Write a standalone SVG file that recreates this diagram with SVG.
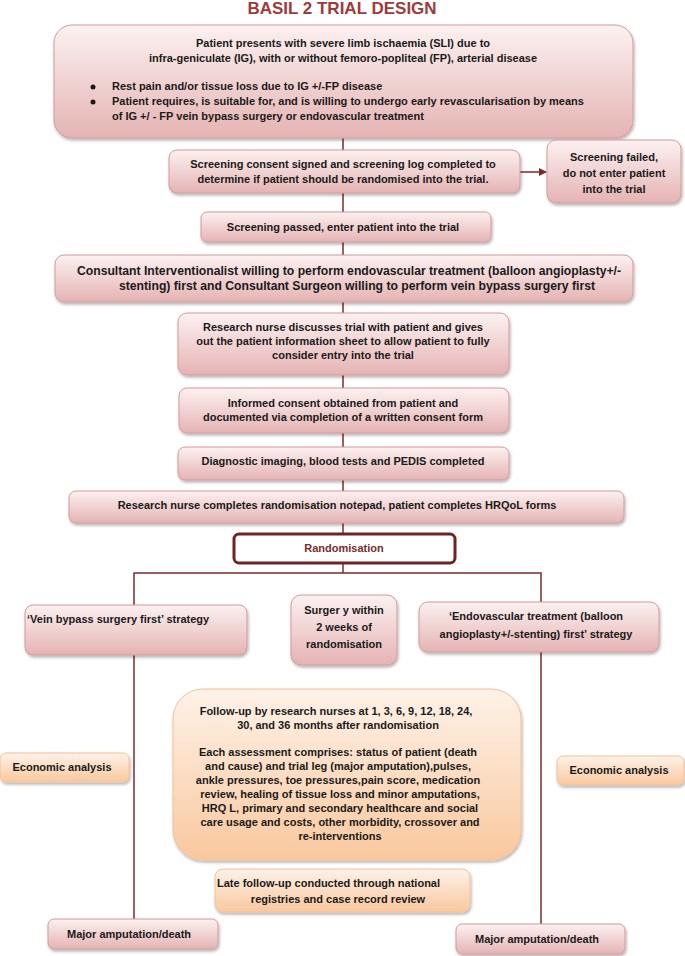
<svg xmlns="http://www.w3.org/2000/svg" width="685" height="956" viewBox="0 0 685 956">
<defs>
<linearGradient id="pink" x1="0" y1="0" x2="0" y2="1">
<stop offset="0" stop-color="#fcf1f1"/>
<stop offset="1" stop-color="#e5b3b3"/>
</linearGradient>
<linearGradient id="orange" x1="0" y1="0" x2="0" y2="1">
<stop offset="0" stop-color="#fef2e8"/>
<stop offset="1" stop-color="#f9c89e"/>
</linearGradient>
<filter id="sh" x="-10%" y="-10%" width="120%" height="130%">
<feDropShadow dx="1" dy="2" stdDeviation="1.5" flood-color="#000" flood-opacity="0.3"/>
</filter>
<marker id="arr" markerWidth="8" markerHeight="8" refX="7" refY="4" orient="auto" markerUnits="userSpaceOnUse">
<path d="M0,0 L8,4 L0,8 z" fill="#7b2b2b"/>
</marker>
</defs>
<style>
.p{fill:url(#pink);stroke:#d39a9a;stroke-width:1;filter:url(#sh)}
.o{fill:url(#orange);stroke:#f5c196;stroke-width:1;filter:url(#sh)}
text{font-family:"Liberation Sans",Arial,sans-serif;font-weight:bold;font-size:11px;fill:#1a1a1a}
.c{text-anchor:middle}
.ln{stroke:#7b2b2b;stroke-width:1.5;fill:none}
</style>
<text x="342" y="14" class="c" style="font-size:17px;fill:#a0393a">BASIL 2 TRIAL DESIGN</text>

<g id="connectors">
<line class="ln" x1="343" y1="138" x2="343" y2="150"/>
<line class="ln" x1="520" y1="172" x2="546" y2="172" marker-end="url(#arr)"/>
<line class="ln" x1="343" y1="193" x2="343" y2="212"/>
<line class="ln" x1="343" y1="242" x2="343" y2="255"/>
<line class="ln" x1="343" y1="302" x2="343" y2="313"/>
<line class="ln" x1="343" y1="375" x2="343" y2="388"/>
<line class="ln" x1="343" y1="433" x2="343" y2="447"/>
<line class="ln" x1="343" y1="480" x2="343" y2="491"/>
<line class="ln" x1="343" y1="523" x2="343" y2="533"/>
<line class="ln" x1="343" y1="563" x2="343" y2="573"/>
<path class="ln" d="M134,605 V573 H541 V602"/>
<line class="ln" x1="134" y1="655" x2="134" y2="919"/>
<line class="ln" x1="541" y1="652" x2="541" y2="924"/>
</g>

<g id="n1">
<rect class="p" x="54" y="25" width="579" height="113" rx="18"/>
<text x="343" y="47" class="c">Patient presents with severe limb ischaemia (SLI) due to</text>
<text x="343" y="62" class="c">infra-geniculate (IG), with or without femoro-popliteal (FP), arterial disease</text>
<circle cx="93" cy="87" r="2.5" fill="#1a1a1a"/>
<circle cx="93" cy="102" r="2.5" fill="#1a1a1a"/>
<text x="112" y="90">Rest pain and/or tissue loss due to IG +/-FP disease</text>
<text x="112" y="105">Patient requires, is suitable for, and is willing to undergo early revascularisation by means</text>
<text x="112" y="120">of IG +/ - FP vein bypass surgery or endovascular treatment</text>
</g>

<g id="n2">
<rect class="p" x="169" y="150" width="351" height="43" rx="8"/>
<text x="343" y="168" class="c">Screening consent signed and screening log completed to</text>
<text x="343" y="183" class="c">determine if patient should be randomised into the trial.</text>
</g>

<g id="n3">
<rect class="p" x="547" y="140" width="134" height="63" rx="9"/>
<text x="614" y="161" class="c">Screening failed,</text>
<text x="614" y="177" class="c">do not enter patient</text>
<text x="614" y="193" class="c">into the trial</text>
</g>

<g id="n4">
<rect class="p" x="201" y="212" width="290" height="30" rx="6"/>
<text x="343" y="231" class="c">Screening passed, enter patient into the trial</text>
</g>

<g id="n5">
<rect class="p" x="55" y="255" width="578" height="47" rx="9"/>
<text x="349" y="275" class="c" style="font-size:12.2px">Consultant Interventionalist willing to perform endovascular treatment (balloon angioplasty+/-</text>
<text x="357" y="290" class="c" style="font-size:12.2px">stenting) first and Consultant Surgeon willing to perform vein bypass surgery first</text>
</g>

<g id="n6">
<rect class="p" x="178" y="313" width="331" height="62" rx="9"/>
<text x="343" y="331" class="c">Research nurse discusses trial with patient and gives</text>
<text x="343" y="345" class="c">out the patient information sheet to allow patient to fully</text>
<text x="343" y="359" class="c">consider entry into the trial</text>
</g>

<g id="n7">
<rect class="p" x="179" y="388" width="330" height="45" rx="8"/>
<text x="343" y="407" class="c">Informed consent obtained from patient and</text>
<text x="343" y="421" class="c">documented via completion of a written consent form</text>
</g>

<g id="n8">
<rect class="p" x="178" y="447" width="331" height="33" rx="7"/>
<text x="343" y="465" class="c">Diagnostic imaging, blood tests and PEDIS completed</text>
</g>

<g id="n9">
<rect class="p" x="69" y="491" width="555" height="32" rx="7"/>
<text x="337" y="509" class="c">Research nurse completes randomisation notepad, patient completes HRQoL forms</text>
</g>

<g id="n10">
<rect x="234" y="534" width="221" height="29" rx="5" fill="#fff" stroke="#6e2424" stroke-width="3"/>
<text x="344" y="552" class="c" style="fill:#7b2b2b">Randomisation</text>
</g>

<g id="n11">
<rect class="p" x="25" y="605" width="222" height="50" rx="8"/>
<text x="27" y="623">‘Vein bypass surgery first’ strategy</text>
</g>

<g id="n12">
<rect class="p" x="291" y="595" width="106" height="70" rx="10"/>
<text x="344" y="614" class="c">Surger y within</text>
<text x="344" y="631" class="c">2 weeks of</text>
<text x="344" y="648" class="c">randomisation</text>
</g>

<g id="n13">
<rect class="p" x="419" y="602" width="240" height="50" rx="9"/>
<text x="536" y="620" class="c">‘Endovascular treatment (balloon</text>
<text x="536" y="638" class="c">angioplasty+/-stenting) first’ strategy</text>
</g>

<g id="n14">
<rect class="o" x="173" y="689" width="348" height="171" rx="30"/>
<text x="336" y="715" class="c">Follow-up by research nurses at 1, 3, 6, 9, 12, 18, 24,</text>
<text x="338" y="729" class="c">30, and 36 months after randomisation</text>
<text x="338" y="756" class="c">Each assessment comprises: status of patient (death</text>
<text x="338" y="770" class="c">and cause) and trial leg (major amputation),pulses,</text>
<text x="338" y="784" class="c">ankle pressures, toe pressures,pain score, medication</text>
<text x="340" y="798" class="c">review, healing of tissue loss and minor amputations,</text>
<text x="340" y="812" class="c">HRQ L, primary and secondary healthcare and social</text>
<text x="340" y="826" class="c">care usage and costs, other morbidity, crossover and</text>
<text x="340" y="840" class="c">re-interventions</text>
</g>

<g id="n15">
<rect class="o" x="0" y="753" width="129" height="29" rx="6"/>
<text x="62" y="771" class="c">Economic analysis</text>
</g>

<g id="n16">
<rect class="o" x="557" y="756" width="127" height="29" rx="6"/>
<text x="619" y="774" class="c">Economic analysis</text>
</g>

<g id="n17">
<rect class="o" x="215" y="869" width="255" height="43" rx="8"/>
<text x="217" y="887">Late follow-up conducted through national</text>
<text x="338" y="903" class="c">registries and case record review</text>
</g>

<g id="n18">
<rect class="p" x="48" y="919" width="170" height="30" rx="6"/>
<text x="67" y="938">Major amputation/death</text>
</g>

<g id="n19">
<rect class="p" x="456" y="924" width="169" height="30" rx="6"/>
<text x="475" y="943">Major amputation/death</text>
</g>
</svg>
